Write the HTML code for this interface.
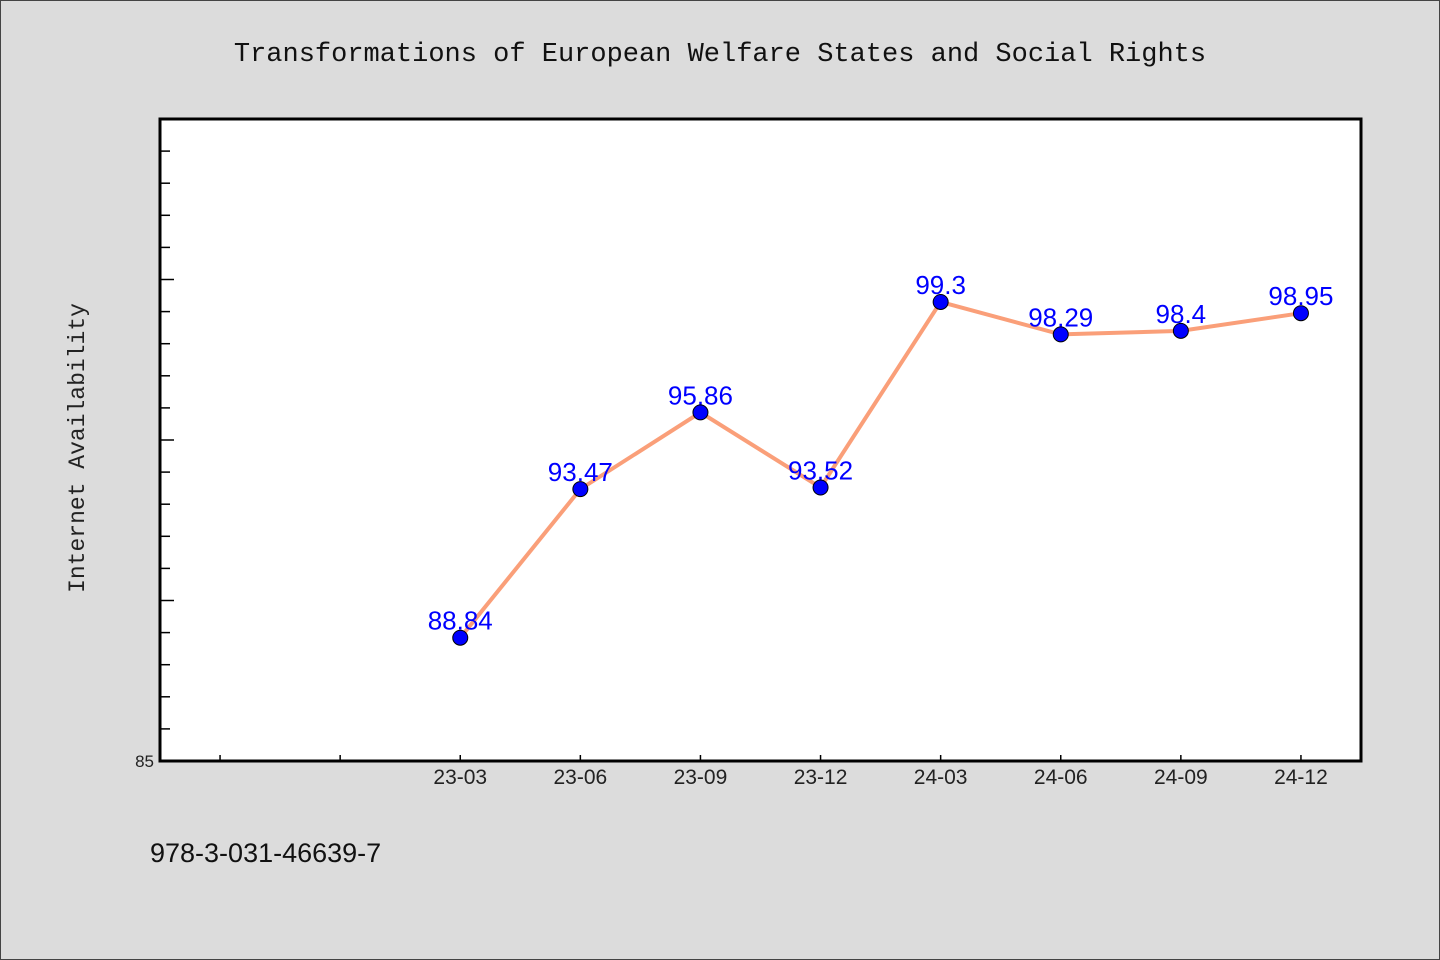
<!DOCTYPE html>
<html><head><meta charset="utf-8"><style>
body{margin:0;background:#dcdcdc;}
svg{display:block;}
text{font-family:"WenQuanYi Zen Hei","Liberation Sans",sans-serif;}
</style></head><body>
<svg id="c" width="1440" height="960">
<rect x="0.5" y="0.5" width="1439" height="959" fill="#dcdcdc" stroke="#444"/>
<text x="720" y="61" text-anchor="middle" font-size="27" style="font-family:'Liberation Mono',monospace" fill="#111">Transformations of European Welfare States and Social Rights</text>
<text transform="translate(84,448) rotate(-90)" text-anchor="middle" font-size="23" style="font-family:'Liberation Mono',monospace" fill="#222">Internet Availability</text>
<text x="150" y="862" font-size="27" fill="#111">978-3-031-46639-7</text>
<rect x="160" y="119" width="1201" height="642" fill="#fff" stroke="#000" stroke-width="3"/>
<g id="ticks"></g><g id="marks"></g>
</svg>
<script>
const categories=["","","23-03","23-06","23-09","23-12","24-03","24-06","24-09","24-12"];
const values=[null,null,88.84,93.47,95.86,93.52,99.3,98.29,98.4,98.95];
const valueLabels=["","","88.84","93.47","95.86","93.52","99.3","98.29","98.4","98.95"];
const yMin=85,yMax=105;
const L=160,R=1361,T=119,B=761;
const ns="http://www.w3.org/2000/svg";
const step=(R-L)/categories.length;
const xS=i=>L+step*(i+0.5);
const yS=v=>B-(v-yMin)/(yMax-yMin)*(B-T);
const tg=document.getElementById('ticks'),mg=document.getElementById('marks');
function mk(t,a,p){const e=document.createElementNS(ns,t);for(const k in a)e.setAttribute(k,a[k]);p.appendChild(e);return e;}
for(let v=yMin+1;v<yMax;v++){
 const l=mk('line',{x1:L,x2:L+(v%5===0?14:10),y1:yS(v),y2:yS(v),stroke:'#000','stroke-width':1.5},tg);
 
 
}
const yl=mk('text',{x:L-6,y:B+6,'text-anchor':'end','font-size':17,fill:'#222'},tg);yl.textContent=String(yMin);


categories.forEach((c,i)=>{
 const l=mk('line',{x1:xS(i),x2:xS(i),y1:B,y2:B-6,stroke:'#000','stroke-width':1.5},tg);
 
 
 if(c){const t=mk('text',{x:xS(i),y:B+23,'text-anchor':'middle','font-size':21,fill:'#222'},tg);t.textContent=c;
 
 }
});
const pts=[];values.forEach((v,i)=>{if(v!==null)pts.push([xS(i),yS(v),i]);});
const pl=mk('polyline',{points:pts.map(p=>p[0]+','+p[1]).join(' '),fill:'none',stroke:'#fa9f79','stroke-width':4},mg);


pts.forEach(p=>{
 const c=mk('circle',{cx:p[0],cy:p[1],r:7.5,fill:'#0000ff',stroke:'#000','stroke-width':1},mg);
 
 
});
pts.forEach(p=>{
 const t=mk('text',{x:p[0],y:p[1]-8,'text-anchor':'middle','font-size':26,fill:'#0000ff'},mg);t.textContent=valueLabels[p[2]];
 
 
});
</script>
</body></html>
